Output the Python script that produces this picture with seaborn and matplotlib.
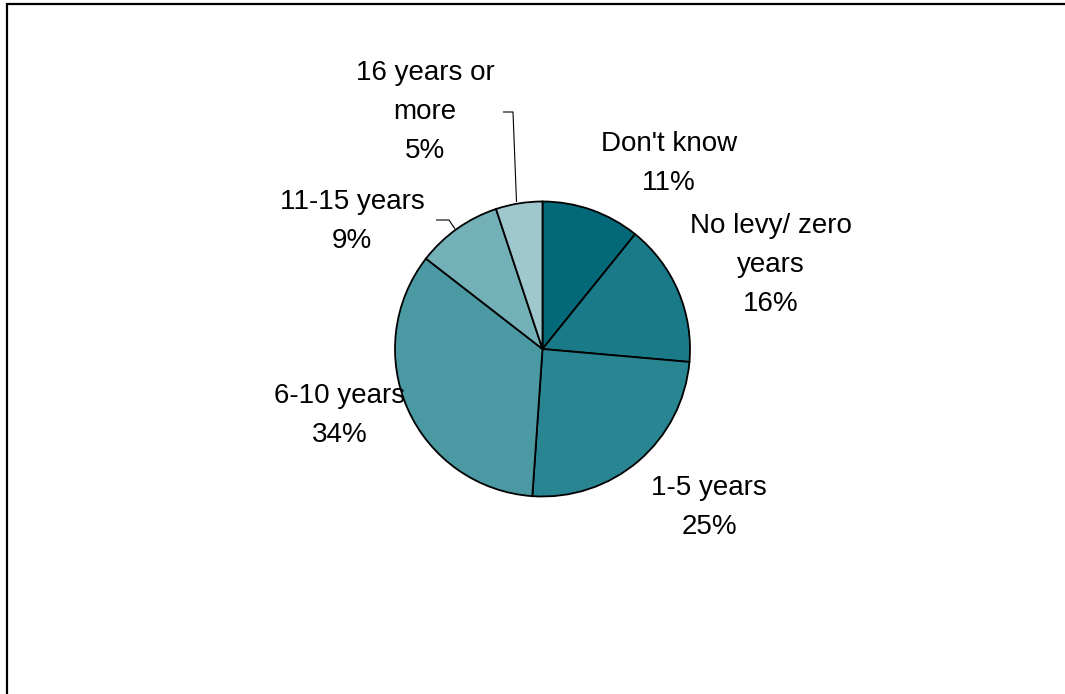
import matplotlib
matplotlib.use("Agg")
import matplotlib.pyplot as plt
from matplotlib.patches import Rectangle
import seaborn as sns

# ---- data ----
categories = ["Don't know", "No levy/ zero\nyears", "1-5 years",
              "6-10 years", "11-15 years", "16 years or\nmore"]
shares = [10.8, 15.6, 24.7, 34.4, 9.4, 5.1]      # slice sizes
pct_labels = [11, 16, 25, 34, 9, 5]               # percentages printed on the chart
colors = ["#036978", "#1B7A88", "#2A8592", "#4B99A3", "#74B0B8", "#9EC8CE"]

# ---- layout (pixel coordinates, y downwards) ----
W, H = 1065, 694
center = (542.5, 349)
radius = 147.5
label_pos = [(669, 189.5), (771, 311), (709, 533.5), (340, 441.5), (352, 247.5), (425, 157.5)]
leaders = {4: [(436, 220), (449, 220), (455, 229)],
           5: [(503, 112), (513, 112), (516.5, 202)]}

sns.set_theme(style="white")
plt.rcParams["font.family"] = ["Liberation Sans", "DejaVu Sans"]

fig = plt.figure(figsize=(W / 100, H / 100), dpi=100)
fig.patch.set_facecolor("white")
ax = fig.add_axes([0, 0, 1, 1])

ax.pie(shares, colors=colors, startangle=-90, counterclock=True,
       center=center, radius=radius, frame=True,
       wedgeprops=dict(edgecolor="black", linewidth=1.3))
ax.set_xlim(0, W)
ax.set_ylim(H, 0)
ax.set_aspect("equal")
ax.axis("off")

for (x, y), cat, v in zip(label_pos, categories, pct_labels):
    ax.text(x, y, f"{cat}\n{v}%", ha="center", va="baseline",
            fontsize=20, color="black", linespacing=1.64)

for pts in leaders.values():
    xs, ys = zip(*pts)
    ax.plot(xs, ys, color="black", linewidth=0.8, solid_capstyle="butt")

fig.patches.append(Rectangle((7 / W, -0.1), 1.2, 1 - 4 / H + 0.1,
                             transform=fig.transFigure, fill=False,
                             edgecolor="black", linewidth=1.6))

fig.savefig("out.png", dpi=100, facecolor="white")
